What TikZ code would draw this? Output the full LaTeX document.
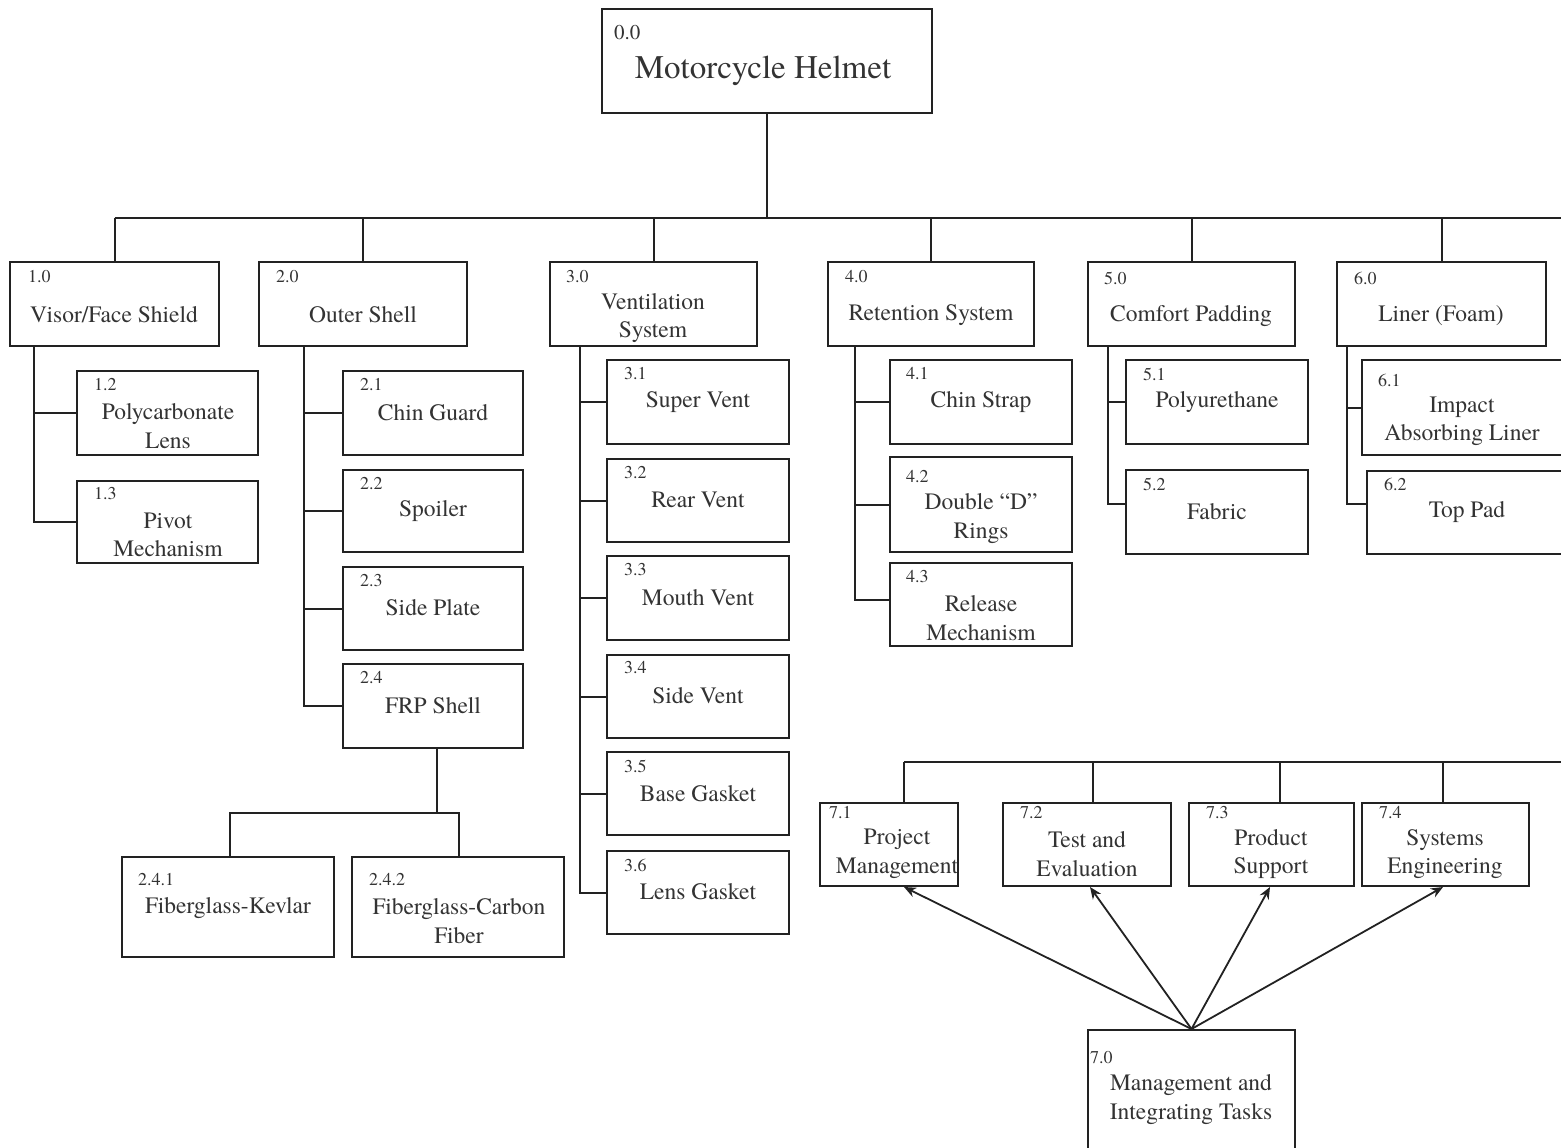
\documentclass[tikz,border=0pt]{standalone}
\usepackage{fontspec}
\setmainfont{texgyretermes}[Extension=.otf, UprightFont=*-regular, BoldFont=*-bold, ItalicFont=*-italic, BoldItalicFont=*-bolditalic]
\usetikzlibrary{arrows.meta,calc}
\definecolor{ink}{HTML}{222222}
\definecolor{txt}{HTML}{333333}
\tikzset{
  box/.style={draw=ink, line width=2pt, rectangle, inner sep=0pt, fill=none},
  lbl/.style={text=txt, align=center, inner sep=0pt, font=\fontsize{23.5}{28.5}\selectfont},
  num/.style={text=txt, anchor=west, inner sep=0pt, font=\fontsize{18}{20}\selectfont},
  wire/.style={draw=ink, line width=2pt},
  arr/.style={draw=ink, line width=1.8pt, -{Stealth[length=12pt,width=10pt]}}
}
\begin{document}
\begin{tikzpicture}[x=1pt,y=-1pt]
\useasboundingbox (0,0) rectangle (1561,1148);
\fill[white] (0,0) rectangle (1561,1148);
\clip (0,0) rectangle (1561,1148);

% root
\node[box, minimum width=330, minimum height=104] (root) at (767,61) {};
\node[num, font=\fontsize{21}{24}\selectfont] (k00) at (614,33) {0.0};
\node[text=txt, inner sep=0pt, font=\fontsize{33}{38}\selectfont] (t00) at (763,71) {Motorcycle Helmet};

% level 1
\node[box, minimum width=209, minimum height=84] (n10) at (114.5,304) {};
\node[box, minimum width=208, minimum height=84] (n20) at (363,304) {};
\node[box, minimum width=207, minimum height=84] (n30) at (653.5,304) {};
\node[box, minimum width=206, minimum height=84] (n40) at (931,304) {};
\node[box, minimum width=207, minimum height=84] (n50) at (1191.5,304) {};
\node[box, minimum width=209, minimum height=84] (n60) at (1441.5,304) {};
\node[num] at (28,277) {1.0};
\node[num] at (276,277) {2.0};
\node[num] at (566,277) {3.0};
\node[num] at (845,277) {4.0};
\node[num] at (1104,278) {5.0};
\node[num] at (1354,278) {6.0};
\node[lbl] at (114,315) {Visor/Face Shield};
\node[lbl] at (363,315) {Outer Shell};
\node[lbl] at (653,318) {Ventilation\\System};
\node[lbl] at (931,315) {Retention System};
\node[lbl] at (1191,316) {Comfort Padding};
\node[lbl] at (1441,316) {Liner (Foam)};

% bus
\coordinate (busR) at (1561,218);
\draw[wire] (root.south) -- (root.south |- busR);
\draw[wire] (n10.north |- busR) -- (busR);
\foreach \n in {n10,n20,n30,n40,n50,n60} \draw[wire] (\n.north) -- (\n.north |- busR);

% 1.x
\node[box, minimum width=181, minimum height=84] (n12) at (167.5,413) {};
\node[box, minimum width=181, minimum height=82] (n13) at (167.5,522) {};
\node[num] at (94,385) {1.2};
\node[num] at (94,494) {1.3};
\node[lbl] at (168,426) {Polycarbonate\\Lens};
\node[lbl] at (168,535) {Pivot\\Mechanism};
\coordinate (s1) at (34,346);
\draw[wire] (s1) |- (n13.west);
\draw[wire] (s1 |- n12.west) -- (n12.west);

% 2.x
\node[box, minimum width=180, minimum height=84] (n21) at (433,413) {};
\node[box, minimum width=180, minimum height=82] (n22) at (433,511) {};
\node[box, minimum width=180, minimum height=83] (n23) at (433,608.5) {};
\node[box, minimum width=180, minimum height=84] (n24) at (433,706) {};
\node[num] at (360,385) {2.1};
\node[num] at (360,484) {2.2};
\node[num] at (360,581) {2.3};
\node[num] at (360,678) {2.4};
\node[lbl] at (433,413) {Chin Guard};
\node[lbl] at (433,511) {Spoiler};
\node[lbl] at (433,608) {Side Plate};
\node[lbl] at (433,706) {FRP Shell};
\coordinate (s2) at (304,346);
\draw[wire] (s2) |- (n24.west);
\foreach \n in {n21,n22,n23} \draw[wire] (s2 |- \n.west) -- (\n.west);

% 2.4.x
\node[box, minimum width=212, minimum height=100] (n241) at (228,907) {};
\node[box, minimum width=212, minimum height=100] (n242) at (458,907) {};
\node[num] at (138,880) {2.4.1};
\node[num] at (369,880) {2.4.2};
\node[lbl] at (228,908) {Fiberglass-Kevlar};
\node[lbl] at (459,921) {Fiberglass-Carbon\\Fiber};
\coordinate (b24) at (437,813);
\coordinate (b241) at (230,813);
\coordinate (b242) at (459,813);
\draw[wire] (b24 |- n24.south) -- (b24);
\draw[wire] (b241 |- n241.north) -- (b241) -- (b242) -- (b242 |- n242.north);

% 3.x
\node[box, minimum width=182, minimum height=84] (n31) at (698,402) {};
\node[box, minimum width=182, minimum height=83] (n32) at (698,500.5) {};
\node[box, minimum width=182, minimum height=84] (n33) at (698,598) {};
\node[box, minimum width=182, minimum height=83] (n34) at (698,696.5) {};
\node[box, minimum width=182, minimum height=83] (n35) at (698,793.5) {};
\node[box, minimum width=182, minimum height=83] (n36) at (698,892.5) {};
\node[num] at (624,374) {3.1};
\node[num] at (624,473) {3.2};
\node[num] at (624,570) {3.3};
\node[num] at (624,668) {3.4};
\node[num] at (624,766) {3.5};
\node[num] at (624,865) {3.6};
\node[lbl] at (698,402) {Super Vent};
\node[lbl] at (698,500) {Rear Vent};
\node[lbl] at (698,598) {Mouth Vent};
\node[lbl] at (698,696) {Side Vent};
\node[lbl] at (698,794) {Base Gasket};
\node[lbl] at (698,892) {Lens Gasket};
\coordinate (s3) at (580,346);
\draw[wire] (s3) |- (n36.west);
\foreach \n in {n31,n32,n33,n34,n35} \draw[wire] (s3 |- \n.west) -- (\n.west);

% 4.x
\node[box, minimum width=182, minimum height=84] (n41) at (981,402) {};
\node[box, minimum width=182, minimum height=95] (n42) at (981,504.5) {};
\node[box, minimum width=182, minimum height=83] (n43) at (981,604.5) {};
\node[num] at (906,374) {4.1};
\node[num] at (906,477) {4.2};
\node[num] at (906,577) {4.3};
\node[lbl] at (981,402) {Chin Strap};
\node[lbl] at (981,518.5) {Double “D”\\Rings};
\node[lbl] at (981,618) {Release\\Mechanism};
\coordinate (s4) at (855,346);
\draw[wire] (s4) |- ($(n43.west)+(0,-5)$);
\foreach \n in {n41,n42} \draw[wire] (s4 |- \n.west) -- (\n.west);

% 5.x
\node[box, minimum width=182, minimum height=84] (n51) at (1217,402) {};
\node[box, minimum width=182, minimum height=84] (n52) at (1217,512) {};
\node[num] at (1143,374) {5.1};
\node[num] at (1143,484) {5.2};
\node[lbl] at (1217,402) {Polyurethane};
\node[lbl] at (1217,512) {Fabric};
\coordinate (s5) at (1108,346);
\draw[wire] (s5) |- ($(n52.west)+(0,-8)$);
\draw[wire] (s5 |- n51.west) -- (n51.west);

% 6.x
\node[box, minimum width=208, minimum height=95] (n61) at (1466,407.5) {};
\node[box, minimum width=203, minimum height=83] (n62) at (1468.5,512.5) {};
\node[num] at (1378,380) {6.1};
\node[num] at (1384,484) {6.2};
\node[lbl] at (1462,421.5) {Impact\\Absorbing Liner};
\node[lbl] at (1467,512) {Top Pad};
\coordinate (s6) at (1347,346);
\draw[wire] (s6) |- ($(n62.west)+(0,-9)$);
\draw[wire] (s6 |- n61.west) -- (n61.west);

% 7.x
\node[box, minimum width=138, minimum height=83] (n71) at (889,844.5) {};
\node[box, minimum width=168, minimum height=83] (n72) at (1087,844.5) {};
\node[box, minimum width=165, minimum height=83] (n73) at (1271.5,844.5) {};
\node[box, minimum width=167, minimum height=83] (n74) at (1445.5,844.5) {};
\node[box, minimum width=207, minimum height=130] (n70) at (1191.5,1095) {};
\node[num] at (829,813) {7.1};
\node[num] at (1020,813) {7.2};
\node[num] at (1206,813) {7.3};
\node[num] at (1379,813) {7.4};
\node[num] at (1090,1058) {7.0};
\node[lbl] at (897,854) {Project\\Management};
\node[lbl] at (1087,854) {Test and\\Evaluation};
\node[lbl] at (1271,854) {Product\\Support};
\node[lbl] at (1445,854) {Systems\\Engineering};
\node[lbl] at (1191,1099.5) {Management and\\Integrating Tasks};

\coordinate (bus7R) at (1561,762);
\coordinate (d71) at (904,762);
\coordinate (d72) at (1093,762);
\coordinate (d73) at (1280,762);
\coordinate (d74) at (1443,762);
\draw[wire] (d71) -- (bus7R);
\draw[wire] (d71) -- (d71 |- n71.north);
\draw[wire] (d72) -- (d72 |- n72.north);
\draw[wire] (d73) -- (d73 |- n73.north);
\draw[wire] (d74) -- (d74 |- n74.north);

\coordinate (e71) at (904,0);
\coordinate (e72) at (1090,0);
\coordinate (e73) at (1270,0);
\coordinate (e74) at (1443,0);
\draw[arr] (n70.north) -- (e71 |- n71.south);
\draw[arr] (n70.north) -- (e72 |- n72.south);
\draw[arr] (n70.north) -- (e73 |- n73.south);
\draw[arr] (n70.north) -- (e74 |- n74.south);
\end{tikzpicture}
\end{document}
